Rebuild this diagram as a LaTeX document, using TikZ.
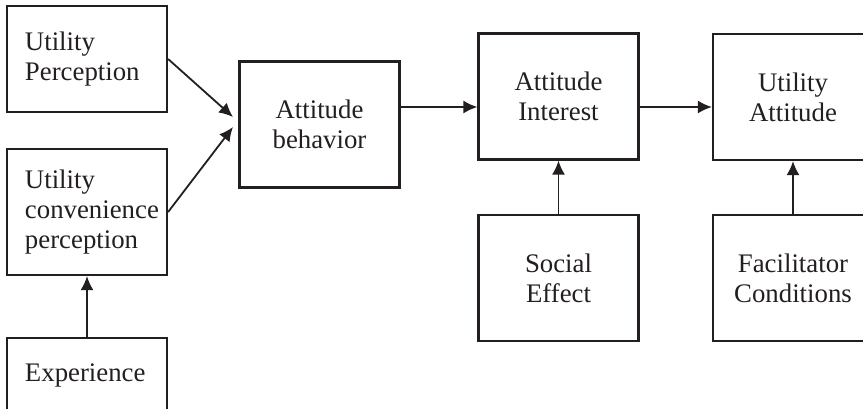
\documentclass[tikz,border=0pt]{standalone}
\usepackage{fontspec}
\setmainfont{Liberation Serif}
\usetikzlibrary{arrows.meta}
\definecolor{linegray}{RGB}{35,31,32}

\begin{document}
\begin{tikzpicture}[x=0.5pt, y=-0.5pt,
		mynode/.style={draw=linegray, line width=1.1pt, minimum width=80pt, minimum height=63pt, align=center, text=linegray, font=\fontsize{13.4}{15}\selectfont},
		leftnode/.style={mynode, align=left, text width=62pt, inner xsep=9pt},
		myarrow/.style={draw=linegray, line width=0.9pt, -{Latex[length=7pt,width=6.5pt]}}
	]
	\clip (0,0) rectangle (863,408);

	\node[leftnode, minimum height=53pt] (perc) at (87,59) {Utility\\Perception};
	\node[leftnode] (conv) at (87,212) {Utility\\\mbox{convenience}\\perception};
	\node[leftnode, minimum height=37pt] (exper) at (87,375) {Experience};

	\node[mynode] (behav) at (319.5,124.5) {Attitude\\behavior};
	\node[mynode] (inter) at (558.5,96.5) {Attitude\\Interest};
	\node[mynode] (uatt) at (793,97) {Utility\\Attitude};

	\node[mynode] (social) at (558.5,278) {Social\\Effect};
	\node[mynode] (facil) at (793,278) {Facilitator\\Conditions};

	\coordinate (tipa) at (233,117);
	\coordinate (tipb) at (233,127);
	\coordinate (row) at (0,107);

	\draw[myarrow] (perc.east) -- (tipa);
	\draw[myarrow] (conv.east) -- (tipb);
	\draw[myarrow] (exper.north) -- (conv.south);
	\draw[myarrow] (behav.east |- row) -- (inter.west |- row);
	\draw[myarrow] (inter.east |- row) -- (uatt.west |- row);
	\draw[myarrow] (social.north) -- (inter.south);
	\draw[myarrow] (facil.north) -- (uatt.south);
\end{tikzpicture}
\end{document}
